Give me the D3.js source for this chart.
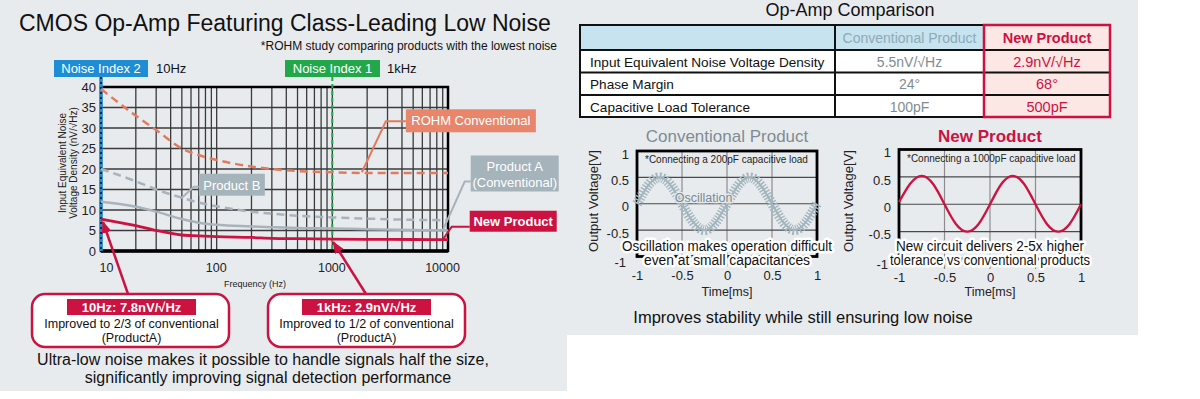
<!DOCTYPE html>
<html><head><meta charset="utf-8">
<script src="https://cdn.jsdelivr.net/npm/d3@7"></script>
<style>
html,body{margin:0;padding:0;background:#fff;}
svg{display:block;font-family:"Liberation Sans",Arial,Helvetica,sans-serif;}
</style></head><body>
<svg id="c" width="1200" height="399"></svg>
<script>
// ---------------- data ----------------
const freqs = [10,20,30,50,70,100,200,300,500,1000,2000,5000,10000];
const rohmConventional = [39.5,33,29.5,25,23.4,22.2,20.6,20,19.5,19.2,19,19,19];
const productB = [20,17,15,13,11.8,10.9,9.6,9.1,8.6,8.2,7.9,7.6,7.5];
const productA = [12,10.8,9.6,7.8,6.9,6.4,6,5.8,5.6,5.5,5.3,5.1,5];
const newProduct = [7.8,6.2,5,3.9,3.7,3.5,3.3,3.1,3,2.9,2.85,2.8,2.75];
const noiseYTicks = [0,5,10,15,20,25,30,35,40];
const freqTicks = [10,100,1000,10000];

const tableHeaders = ["", "Conventional Product", "New Product"];
const tableRows = ["Input Equivalent Noise Voltage Density","Phase Margin","Capacitive Load Tolerance"];
const tableConventional = ["5.5nV/\u221AHz","24\u00B0","100pF"];
const tableNew = ["2.9nV/\u221AHz","68\u00B0","500pF"];

const waveTime = [-1,-0.875,-0.75,-0.625,-0.5,-0.375,-0.25,-0.125,0,0.125,0.25,0.375,0.5,0.625,0.75,0.875,1];
const conventionalWave = [0,0.35,0.5,0.35,0,-0.35,-0.5,-0.35,0,0.35,0.5,0.35,0,-0.35,-0.5,-0.35,0];
const newWave = [0.04,0.38,0.52,0.37,0,-0.36,-0.5,-0.36,0,0.37,0.52,0.37,0,-0.36,-0.5,-0.36,0];
const waveTicks = [-1,-0.5,0,0.5,1];

// ---------------- style ----------------
const BG = "#e8ebee";
const RED = "#cc1241";
const SALMON = "#e27b5e";
const SALMON_BOX = "#e9856b";
const GREY = "#a8b4bb";
const GREY_BOX = "#a5b3bb";
const BLUE = "#1e8dd6";
const GREEN = "#22a84b";

const svg = d3.select("#c");
svg.append("rect").attr("x",0).attr("y",0).attr("width",1138).attr("height",335).attr("fill",BG);
svg.append("rect").attr("x",0).attr("y",0).attr("width",567).attr("height",391).attr("fill",BG);

const defs = svg.append("defs");
defs.append("marker").attr("id","arr").attr("viewBox","0 0 12 10")
  .attr("refX",11).attr("refY",5).attr("markerWidth",12).attr("markerHeight",10)
  .attr("markerUnits","userSpaceOnUse").attr("orient","auto")
  .append("path").attr("d","M0,0 L12,5 L0,10 z").attr("fill",RED);

// ---------------- left panel ----------------
const L = svg.append("g");
L.append("text").attr("x",19).attr("y",31).attr("font-size",23).attr("fill","#111")
  .text("CMOS Op-Amp Featuring Class-Leading Low Noise");
L.append("text").attr("x",557).attr("y",50).attr("font-size",12).attr("text-anchor","end").attr("fill","#111")
  .text("*ROHM study comparing products with the lowest noise");

const x = d3.scaleLog().domain([10,10000]).range([101,448]);
const y = d3.scaleLinear().domain([0,40]).range([251,87]);

// grid
L.append("g").selectAll("line").data(x.ticks()).join("line")
  .attr("x1",d=>x(d)).attr("x2",d=>x(d)).attr("y1",y(40)).attr("y2",y(0))
  .attr("stroke","#3a3a3a").attr("stroke-width",1.3);
L.append("g").selectAll("line").data(noiseYTicks).join("line")
  .attr("x1",x(10)).attr("x2",x(10000)).attr("y1",d=>y(d)).attr("y2",d=>y(d))
  .attr("stroke","#3a3a3a").attr("stroke-width",1.3);
// frame
L.append("rect").attr("x",x(10)).attr("y",y(40)).attr("width",x(10000)-x(10)).attr("height",y(0)-y(40))
  .attr("fill","none").attr("stroke","#000").attr("stroke-width",2.5);
L.append("line").attr("x1",x(10)).attr("x2",x(10000)).attr("y1",y(0)).attr("y2",y(0))
  .attr("stroke","#000").attr("stroke-width",3.5);

// axes
const ya = L.append("g").attr("transform",`translate(${x(10)},0)`)
  .call(d3.axisLeft(y).tickValues(noiseYTicks).tickSize(0).tickPadding(5));
ya.select(".domain").remove();
ya.selectAll("text").attr("font-size",13).attr("fill","#222").attr("font-family",null);
const xa = L.append("g").attr("transform",`translate(0,${y(0)})`)
  .call(d3.axisBottom(x).tickValues(freqTicks).tickFormat(d3.format("d")).tickSize(0).tickPadding(12));
xa.select(".domain").remove();
xa.selectAll("text").attr("font-size",12.5).attr("fill","#222").attr("font-family",null)
  .attr("dx",(d,i)=> i===0 ? 5 : (i===freqTicks.length-1 ? -6 : -1));

L.append("text").attr("transform","translate(66,163) rotate(-90)").attr("text-anchor","middle")
  .attr("font-size",10).attr("fill","#222").text("Input Equivalent Noise");
L.append("text").attr("transform","translate(77,163) rotate(-90)").attr("text-anchor","middle")
  .attr("font-size",10).attr("fill","#222").text("Voltage Density (nV/\u221AHz)");
L.append("text").attr("x",255).attr("y",287).attr("text-anchor","middle").attr("font-size",9)
  .attr("fill","#222").text("Frequency (Hz)");

// noise index markers
L.append("line").attr("x1",x(10)).attr("x2",x(10)).attr("y1",77).attr("y2",y(0))
  .attr("stroke",BLUE).attr("stroke-width",3.5);
L.append("line").attr("x1",x(10)).attr("x2",x(10)).attr("y1",77).attr("y2",y(0))
  .attr("stroke","#111").attr("stroke-width",1.5).attr("stroke-dasharray","2 3");
L.append("line").attr("x1",x(1000)).attr("x2",x(1000)).attr("y1",77).attr("y2",y(0))
  .attr("stroke",GREEN).attr("stroke-width",2).attr("stroke-dasharray","4 3");

L.append("rect").attr("x",54).attr("y",60).attr("width",94).attr("height",17).attr("fill",BLUE);
L.append("text").attr("x",101).attr("y",73).attr("text-anchor","middle").attr("font-size",13).attr("fill","#fff").text("Noise Index 2");
L.append("text").attr("x",156).attr("y",73).attr("font-size",13).attr("fill","#111").text("10Hz");
L.append("rect").attr("x",285).attr("y",60).attr("width",95).attr("height",17).attr("fill",GREEN);
L.append("text").attr("x",332.5).attr("y",73).attr("text-anchor","middle").attr("font-size",13).attr("fill","#fff").text("Noise Index 1");
L.append("text").attr("x",387).attr("y",73).attr("font-size",13).attr("fill","#111").text("1kHz");

// curves
const line = vals => d3.line().x((d,i)=>x(freqs[i])).y(d=>y(d)).curve(d3.curveMonotoneX)(vals);
L.append("path").attr("d",line(rohmConventional)).attr("fill","none").attr("stroke",SALMON)
  .attr("stroke-width",2.5).attr("stroke-dasharray","8 5");
L.append("path").attr("d",line(productB)).attr("fill","none").attr("stroke",GREY)
  .attr("stroke-width",2.5).attr("stroke-dasharray","8 5");
L.append("path").attr("d",line(productA)).attr("fill","none").attr("stroke",GREY).attr("stroke-width",2.5);
L.append("path").attr("d",line(newProduct)).attr("fill","none").attr("stroke",RED).attr("stroke-width",2.8);

// series labels (anchored on the data through the scales)
function label(anchorF, anchorV, elbow, box, lines, fill, stroke, bold){
  const ax = x(anchorF), ay = y(anchorV);
  const ex = ax+elbow[0], ey = ay+elbow[1];
  const bx = ax+box[0];
  L.append("polyline").attr("points",`${ax},${ay} ${ex},${ey} ${bx},${ey}`)
    .attr("fill","none").attr("stroke",stroke).attr("stroke-width",2);
  L.append("rect").attr("x",bx).attr("y",ay+box[1]).attr("width",box[2]).attr("height",box[3]).attr("fill",fill);
  lines.forEach((t,i)=>{
    L.append("text").attr("x",bx+box[2]/2).attr("y",ay+box[1]+box[4]+i*16).attr("text-anchor","middle")
      .attr("font-size",13).attr("font-weight",bold?"bold":null).attr("fill","#fff").text(t);
  });
}
label(1800,19.2,[24,-51],[44,-63,130,23,16],["ROHM Conventional"],SALMON_BOX,SALMON,false);
label(9000,5,[22,-49],[28,-75,88,36,15],["Product A","(Conventional)"],GREY_BOX,GREY,false);
label(9000,2.75,[9,-13],[27,-29,87,21,15.5],["New Product"],RED,RED,true);
label(50,13,[12,-11],[17,-24,66,22,16],["Product B"],GREY_BOX,GREY,false);

// callouts
function callout(bx, cx, tip, head, txt){
  L.append("line").attr("x1",tip[0]).attr("y1",294).attr("x2",tip[1]).attr("y2",tip[2])
    .attr("stroke",RED).attr("stroke-width",2.5).attr("marker-end","url(#arr)");
  L.append("rect").attr("x",bx).attr("y",294).attr("width",197).attr("height",53).attr("rx",13)
    .attr("fill","#fff").attr("stroke",RED).attr("stroke-width",2.5);
  L.append("rect").attr("x",cx-64.5).attr("y",299).attr("width",129).attr("height",16).attr("fill",RED);
  L.append("text").attr("x",cx).attr("y",312).attr("text-anchor","middle").attr("font-size",13)
    .attr("font-weight","bold").attr("fill","#fff").text(head);
  L.append("text").attr("x",cx).attr("y",327.5).attr("text-anchor","middle").attr("font-size",12.5)
    .attr("fill","#111").text(txt);
  L.append("text").attr("x",cx).attr("y",341.5).attr("text-anchor","middle").attr("font-size",12.5)
    .attr("fill","#111").text("(ProductA)");
}
callout(32,131.5,[128,x(10)+2,y(newProduct[0])+3],"10Hz: 7.8nV/\u221AHz","Improved to 2/3 of conventional");
callout(268,366.5,[366,x(1000)+1,y(newProduct[9])+3],"1kHz: 2.9nV/\u221AHz","Improved to 1/2 of conventional");

L.append("text").attr("x",263).attr("y",365).attr("text-anchor","middle").attr("font-size",16).attr("fill","#111")
  .text("Ultra-low noise makes it possible to handle signals half the size,");
L.append("text").attr("x",268).attr("y",383).attr("text-anchor","middle").attr("font-size",16).attr("fill","#111")
  .text("significantly improving signal detection performance");

// ---------------- right panel: table ----------------
const R = svg.append("g");
R.append("text").attr("x",850).attr("y",16).attr("text-anchor","middle").attr("font-size",18).attr("fill","#111")
  .text("Op-Amp Comparison");
const colX = [580,835,984,1110];
const rowY = [25,50,72.5,95,117];
R.append("rect").attr("x",colX[0]).attr("y",rowY[0]).attr("width",colX[3]-colX[0]).attr("height",rowY[4]-rowY[0]).attr("fill","#fff");
R.append("rect").attr("x",colX[0]).attr("y",rowY[0]).attr("width",colX[2]-colX[0]).attr("height",rowY[1]-rowY[0]).attr("fill","#c6e3ef");
R.append("rect").attr("x",colX[2]).attr("y",rowY[0]).attr("width",colX[3]-colX[2]).attr("height",rowY[4]-rowY[0]).attr("fill","#fde7e4");
R.selectAll(".rl").data(rowY.slice(1,4)).join("line").attr("x1",colX[0]).attr("x2",colX[3])
  .attr("y1",d=>d).attr("y2",d=>d).attr("stroke","#111").attr("stroke-width",2);
R.selectAll(".cl").data([colX[1]]).join("line").attr("x1",d=>d).attr("x2",d=>d)
  .attr("y1",rowY[0]).attr("y2",rowY[4]).attr("stroke","#111").attr("stroke-width",2);
R.append("rect").attr("x",colX[0]).attr("y",rowY[0]).attr("width",colX[3]-colX[0]).attr("height",rowY[4]-rowY[0])
  .attr("fill","none").attr("stroke","#111").attr("stroke-width",2);
R.append("rect").attr("x",colX[2]).attr("y",rowY[0]).attr("width",colX[3]-colX[2]).attr("height",rowY[4]-rowY[0])
  .attr("fill","none").attr("stroke",RED).attr("stroke-width",2.5);
R.append("text").attr("x",(colX[1]+colX[2])/2).attr("y",43).attr("text-anchor","middle").attr("font-size",14)
  .attr("fill","#8eaab6").text(tableHeaders[1]);
R.append("text").attr("x",(colX[2]+colX[3])/2).attr("y",43).attr("text-anchor","middle").attr("font-size",14.5)
  .attr("font-weight","bold").attr("fill",RED).text(tableHeaders[2]);
tableRows.forEach((t,i)=>{
  const by = rowY[i+1] + 16.5;
  R.append("text").attr("x",590).attr("y",by).attr("font-size",13.6).attr("fill","#111").text(t);
  R.append("text").attr("x",(colX[1]+colX[2])/2).attr("y",by).attr("text-anchor","middle").attr("font-size",14)
    .attr("fill","#7f8c92").text(tableConventional[i]);
  R.append("text").attr("x",(colX[2]+colX[3])/2).attr("y",by).attr("text-anchor","middle").attr("font-size",14.5)
    .attr("fill",RED).text(tableNew[i]);
});

// ---------------- right panel: waveforms ----------------
function wave(cfg){
  const g = R.append("g");
  const sx = d3.scaleLinear().domain([-1,1]).range([cfg.x0,cfg.x1]);
  const sy = d3.scaleLinear().domain([-1,1]).range([cfg.yb,cfg.yt]);
  g.append("text").attr("x",sx(0)).attr("y",142).attr("text-anchor","middle").attr("font-size",17)
    .attr("font-weight",cfg.bold?"bold":null).attr("fill",cfg.titleColor).text(cfg.title);
  // grid
  g.selectAll(".vg").data(waveTicks.slice(1,4)).join("line")
    .attr("x1",d=>sx(d)).attr("x2",d=>sx(d)).attr("y1",sy(1)).attr("y2",sy(-1)+10)
    .attr("stroke","#8c8c8c").attr("stroke-width",1.2);
  g.selectAll(".hg").data(waveTicks.slice(1,4)).join("line")
    .attr("x1",sx(-1)).attr("x2",sx(1)).attr("y1",d=>sy(d)).attr("y2",d=>sy(d))
    .attr("stroke","#4a4a4a").attr("stroke-width",1.2);
  g.append("rect").attr("x",sx(-1)).attr("y",sy(1)).attr("width",sx(1)-sx(-1)).attr("height",sy(-1)-sy(1))
    .attr("fill","none").attr("stroke","#000").attr("stroke-width",2.8);
  // axes
  const ay = g.append("g").attr("transform",`translate(${sx(-1)},3)`)
    .call(d3.axisLeft(sy).tickValues(waveTicks).tickFormat(d=>String(d)).tickSize(0).tickPadding(8));
  ay.select(".domain").remove();
  ay.selectAll("text").attr("font-size",13).attr("fill","#222").attr("font-family",null)
    .attr("dy",d=> d===-1 ? "0.5em" : "0.32em").attr("dx",d=> d===-1 ? -3 : 0);
  const ax = g.append("g").attr("transform",`translate(0,${sy(-1)})`)
    .call(d3.axisBottom(sx).tickValues(waveTicks).tickFormat(d=>String(d)).tickSize(0).tickPadding(14));
  ax.select(".domain").remove();
  ax.selectAll("text").attr("font-size",13).attr("fill","#222").attr("font-family",null);
  g.append("text").attr("x",sx(0)).attr("y",296).attr("text-anchor","middle").attr("font-size",12.5)
    .attr("fill","#222").text("Time[ms]");
  g.append("text").attr("transform",`translate(${cfg.ylab},201) rotate(-90)`).attr("text-anchor","middle")
    .attr("font-size",13).attr("fill","#222").text("Output Voltage[V]");
  g.append("text").attr("x",sx(-1)+8).attr("y",sy(1)+12).attr("font-size",10).attr("fill","#222").text(cfg.note);
  const lg = d3.line().x((d,i)=>sx(waveTime[i])).y(d=>sy(d)).curve(d3.curveNatural);
  if (cfg.ripple){
    g.append("path").attr("d",lg(cfg.values)).attr("fill","none").attr("stroke",cfg.color)
      .attr("stroke-width",10).attr("stroke-dasharray","1.4 1.6");
    g.append("path").attr("d",lg(cfg.values)).attr("fill","none").attr("stroke",cfg.color).attr("stroke-width",2);
    g.append("text").attr("x",sx(-0.58)).attr("y",sy(0.03)).attr("font-size",12.5).attr("fill","#7b8990")
      .attr("stroke",BG).attr("stroke-width",2.5).attr("paint-order","stroke").text("Oscillation");
  } else {
    g.append("path").attr("d",lg(cfg.values)).attr("fill","none").attr("stroke",cfg.color).attr("stroke-width",2.3);
  }
  cfg.overlay.forEach((t,i)=>{
    const tx = g.append("text").attr("x",sx(0)).attr("y",251+i*14).attr("text-anchor","middle").attr("font-size",14)
      .attr("fill","#111").attr("stroke","#fff").attr("stroke-width",5).attr("stroke-linejoin","round")
      .attr("paint-order","stroke").text(t);
    if (cfg.widths) tx.attr("textLength",cfg.widths[i]).attr("lengthAdjust","spacingAndGlyphs");
  });
}
wave({x0:637,x1:817,yt:151,yb:256.5,title:"Conventional Product",titleColor:"#7f8b91",bold:false,
  ylab:598,note:"*Connecting a 200pF capacitive load",values:conventionalWave,color:"#a2b5bd",ripple:true,
  overlay:["Oscillation makes operation difficult","even at small capacitances"],widths:[210,166]});
wave({x0:899,x1:1081,yt:149.5,yb:259,title:"New Product",titleColor:RED,bold:true,
  ylab:853,note:"*Connecting a 1000pF capacitive load",values:newWave,color:RED,ripple:false,
  overlay:["New circuit delivers 2-5x higher","tolerance vs conventional products"],widths:[188,200]});

R.append("text").attr("x",803).attr("y",323).attr("text-anchor","middle").attr("font-size",16.5).attr("fill","#111")
  .text("Improves stability while still ensuring low noise");
</script>
</body></html>
